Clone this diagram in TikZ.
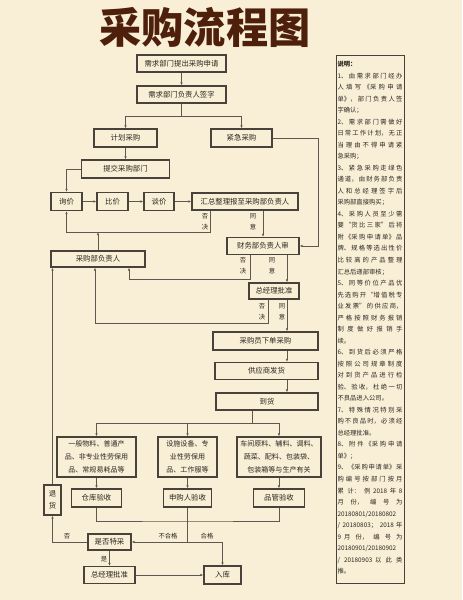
\documentclass[tikz,border=0pt]{standalone}
\usepackage{fontspec}
\setmainfont{Noto Sans CJK SC}
\usetikzlibrary{arrows.meta}
\XeTeXlinebreaklocale "zh"
\XeTeXlinebreakskip=0pt plus 3pt
\definecolor{paper}{RGB}{248,239,214}
\definecolor{boxline}{RGB}{72,66,58}
\definecolor{wire}{RGB}{95,88,78}
\definecolor{ink}{RGB}{45,38,32}
\definecolor{titlebrown}{RGB}{78,32,12}
\tikzset{
    stepbox/.style={draw=boxline, line width=1.5pt, fill=paper, text=ink, inner sep=1pt, align=center, font=\fontsize{10.5}{13}\selectfont},
    boxsize/.style 2 args={minimum width=#1*0.5mm, minimum height=#2*0.5mm},
    catbox/.style={stepbox, font=\fontsize{10}{18.4}\selectfont},
    tag/.style={text=ink, inner sep=0pt, align=center, font=\fontsize{9}{15}\selectfont},
    link/.style={draw=wire, line width=1pt}
}

\begin{document}
\begin{tikzpicture}[x=0.5mm, y=-0.5mm, >={Latex[length=4.5pt,width=3.5pt]}]
    \fill[paper] (0,0) rectangle (462,600);
    \useasboundingbox (0,0) rectangle (462,600);

    \node[text=titlebrown, font=\fontsize{60}{60}\selectfont\bfseries] (title) at (205,27) {采购流程图};

    % request and approval
    \node[stepbox, boxsize={89}{17}] (request) at (181.5,63.5) {需求部门提出采购申请};
    \node[stepbox, boxsize={89}{17}] (sign) at (181.5,94.5) {需求部门负责人签字};
    \node[stepbox, boxsize={63}{18}] (plan) at (125.5,138) {计划采购};
    \node[stepbox, boxsize={61}{18}] (urgent) at (241.5,138) {紧急采购};
    \node[stepbox, boxsize={88}{18}] (submit) at (125.5,169) {提交采购部门};
    \node[stepbox, boxsize={31}{18}] (inquire) at (66.5,201.5) {询价};
    \node[stepbox, boxsize={31}{18}] (compare) at (112.5,201.5) {比价};
    \node[stepbox, boxsize={30}{18}] (bargain) at (159,201.5) {谈价};
    \node[stepbox, boxsize={106}{17}] (summary) at (245,201.5) {汇总整理报至采购部负责人};
    \node[stepbox, boxsize={72}{17}] (finance) at (263,246) {财务部负责人审};
    \node[stepbox, boxsize={94}{16}] (head) at (98,259) {采购部负责人};
    \node[stepbox, boxsize={50}{16}] (gm) at (274,291) {总经理批准};

    % ordering and delivery
    \node[stepbox, boxsize={105}{18}] (order) at (265.5,341) {采购员下单采购};
    \node[stepbox, boxsize={103}{17}] (ship) at (266.5,371) {供应商发货};
    \node[stepbox, boxsize={102}{17}] (arrive) at (267,401.5) {到货};

    % goods types and checks
    \node[catbox, boxsize={79}{40}] (catA) at (96.5,457) {一般物料、普通产\\品、非专业性劳保用\\品、常规易耗品等};
    \node[catbox, boxsize={59}{40}] (catB) at (187.5,457) {设施设备、专\\业性劳保用\\品、工作服等};
    \node[catbox, boxsize={84}{40}] (catC) at (279,457) {车间原料、辅料、调料、\\蔬菜、配料、包装袋、\\包装箱等与生产有关};
    \node[stepbox, boxsize={50}{18}] (checkA) at (96.5,498) {仓库验收};
    \node[stepbox, boxsize={48}{18}] (checkB) at (187.5,498) {申购人验收};
    \node[stepbox, boxsize={51}{18}] (checkC) at (279,498) {品管验收};
    \node[stepbox, boxsize={17}{30}, font=\fontsize{10.5}{17}\selectfont] (retn) at (52.5,500) {退\\货};
    \node[stepbox, boxsize={43}{16}] (special) at (109.5,542) {是否特采};
    \node[stepbox, boxsize={51}{17}] (gm2) at (109.5,575) {总经理批准};
    \node[stepbox, boxsize={37}{18}] (store) at (222.5,575) {入库};

    % turning points
    \coordinate (fork1) at (181.5,116);
    \coordinate (urgcol) at (318,0);
    \coordinate (rej1) at (210,232);
    \coordinate (rej2) at (250,279);
    \coordinate (back2) at (129,279);
    \coordinate (rej3) at (268,323);
    \coordinate (back3) at (95,323);
    \coordinate (okcol) at (287,0);
    \coordinate (fork2) at (252,423);
    \coordinate (merge) at (187.5,521);
    \coordinate (fork3) at (187.5,542);

    \draw[link,->] (request) -- (sign);
    \draw[link] (sign) -- (fork1);
    \draw[link,->] (fork1) -| (plan);
    \draw[link,->] (fork1) -| (urgent);
    \draw[link,->] (urgent.east) -- (urgent.east -| urgcol) |- (finance.east);
    \draw[link,->] (plan) -- (submit);
    \draw[link,->] (submit.west) -| (inquire.north);
    \draw[link,->] (inquire) -- (compare);
    \draw[link,->] (compare) -- (bargain);
    \draw[link,->] (bargain) -- (summary);
    \draw[link,->] (summary.south -| rej1) -- (rej1) -| (inquire.south);
    \draw[link,->] (head.north) -- (head.north |- rej1);
    \draw[link,->] (summary.south -| finance.north) -- (finance.north);
    \draw[link,->] (finance.south -| rej2) -- (rej2) -- (back2) -- (head.south -| back2);
    \draw[link,->] (finance.south -| okcol) -- (gm.north -| okcol);
    \draw[link,->] (gm.south -| rej3) -- (rej3) -- (back3) -- (head.south -| back3);
    \draw[link,->] (gm.south -| okcol) -- (order.north -| okcol);
    \draw[link,->] (order.south -| okcol) -- (ship.north -| okcol);
    \draw[link,->] (ship.south -| okcol) -- (arrive.north -| okcol);
    \draw[link] (arrive.south -| fork2) -- (fork2);
    \draw[link,->] (fork2) -| (catA);
    \draw[link,->] (fork2) -| (catB);
    \draw[link,->] (fork2) -| (catC);
    \draw[link,->] (catA) -- (checkA);
    \draw[link,->] (catB) -- (checkB);
    \draw[link,->] (catC) -- (checkC);
    \draw[link] (checkA) |- (merge) -| (checkC);
    \draw[link] (checkB) -- (fork3);
    \draw[link,->] (fork3) -- (special);
    \draw[link,->] (fork3) -| (store);
    \draw[link,->] (special) -| (retn);
    \draw[link,->] (retn) -- (head.south -| retn);
    \draw[link,->] (special) -- (gm2);
    \draw[link,->] (gm2) -- (store);

    \node[tag] (no1) at (205,222) {否\\决};
    \node[tag] (yes1) at (253,222) {同\\意};
    \node[tag] (no2) at (243,266) {否\\决};
    \node[tag] (yes2) at (272,266) {同\\意};
    \node[tag] (no3) at (262,312) {否\\决};
    \node[tag] (yes3) at (282,312) {同\\意};
    \node[tag] (fail) at (168,536) {不合格};
    \node[tag] (pass) at (207,536) {合格};
    \node[tag] (notspec) at (67,536) {否};
    \node[tag] (isspec) at (104,559) {是};

    % notes column
    \node[draw=boxline, line width=1.2pt, fill=paper, boxsize={68}{528}] (notes) at (370,319) {};
    \node[anchor=north, text width=32.5mm, align=justify, text=ink, inner sep=0pt, font=\fontsize{9}{16.4}\selectfont] (notetext) at ([yshift=-3.2mm]notes.north) {\parindent=0pt\parskip=0pt
        {\bfseries 说明：}\par
        1、由需求部门经办\linebreak 人填写《采购申请\linebreak 单》，部门负责人签\linebreak 字确认；\par
        2、需求部门需做好\linebreak 日常工作计划，无正\linebreak 当理由不得申请紧\linebreak 急采购；\par
        3、紧急采购走绿色\linebreak 通道，由财务部负责\linebreak 人和总经理签字后\linebreak 采购部直接购买；\par
        4、采购人员至少需\linebreak 要“货比三家”后将\linebreak 附《采购申请单》品\linebreak 牌、规格等选出性价\linebreak 比较高的产品整理\linebreak 汇总后递部审核；\par
        5、同等价位产品优\linebreak 先选购开“增值税专\linebreak 业发票”的供应商，\linebreak 严格按照财务报销\linebreak 制度做好报销手\linebreak 续。\par
        6、到货后必须严格\linebreak 按照公司规章制度\linebreak 对到货产品进行检\linebreak 验、验收，杜绝一切\linebreak 不良品进入公司。\par
        7、特殊情况特别采\linebreak 购不良品时，必须经\linebreak 总经理批准。\par
        8、附件《采购申请\linebreak 单》；\par
        9、《采购申请单》采\linebreak 购编号按部门按月\linebreak 累计：例 2018 年 8\linebreak 月份，编号为\linebreak 20180801/20180802\linebreak /20180803；2018 年\linebreak 9 月份，编号为\linebreak 20180901/20180902\linebreak /20180903 以此类\linebreak 推。};
\end{tikzpicture}
\end{document}
